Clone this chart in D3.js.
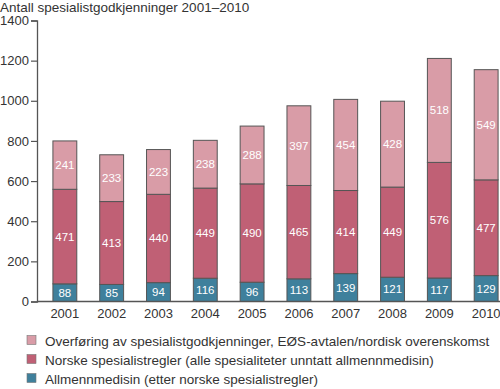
<!DOCTYPE html>
<html>
<head>
<meta charset="utf-8">
<script src="https://cdn.jsdelivr.net/npm/d3@7"></script>
<style>
  body { margin: 0; background: #fff; }
  text { font-family: "Liberation Sans", Arial, sans-serif; }
</style>
</head>
<body>
<div id="chart"></div>
<script>
// data
var years = ["2001", "2002", "2003", "2004", "2005", "2006", "2007", "2008", "2009", "2010"];
var allmenn = [88, 85, 94, 116, 96, 113, 139, 121, 117, 129];
var norske = [471, 413, 440, 449, 490, 465, 414, 449, 576, 477];
var overforing = [241, 233, 223, 238, 288, 397, 454, 428, 518, 549];
var yTicks = [0, 200, 400, 600, 800, 1000, 1200, 1400];
var seriesNames = [
    "Overføring av spesialistgodkjenninger, EØS-avtalen/nordisk overenskomst",
    "Norske spesialistregler (alle spesialiteter unntatt allmennmedisin)",
    "Allmennmedisin (etter norske spesialistregler)"
];

const width = 500;
const height = 389;
var colors = { allmenn: "#3f809c", norske: "#c06075", overforing: "#d99ca7" };

var svg = d3.select("#chart").append("svg")
    .attr("width", width)
    .attr("height", height);

var table = years.map(function(y, i) {
    return { year: y, allmenn: allmenn[i], norske: norske[i], overforing: overforing[i] };
});
var keys = ["allmenn", "norske", "overforing"];
var stacked = d3.stack().keys(keys)(table);

var y = d3.scaleLinear().domain([0, 1400]).range([301.5, 20.5]);
var x = d3.scaleBand().domain(years)
    .range([37, 514])
    .paddingInner(0.49)
    .paddingOuter(0.34);

// title
svg.append("text")
    .attr("x", 0).attr("y", 11.5)
    .attr("font-size", 13.5)
    .attr("fill", "#333")
    .text("Antall spesialistgodkjenninger 2001–2010");

// y axis
var yAxis = svg.append("g")
    .attr("transform", "translate(37,0)")
    .call(d3.axisLeft(y).tickValues(yTicks).tickSize(6).tickPadding(2).tickFormat(d3.format("d")));
yAxis.select(".domain").attr("stroke", "#555").attr("stroke-width", 1.3);
yAxis.selectAll(".tick line").attr("stroke", "#555").attr("stroke-width", 1.2);
yAxis.selectAll("text").attr("font-size", 13).attr("fill", "#333")
    .attr("font-family", "Liberation Sans, Arial, sans-serif");

// bars
var groups = svg.selectAll("g.layer")
    .data(stacked)
    .enter().append("g")
    .attr("class", "layer")
    .attr("fill", function(d) { return colors[d.key]; });

groups.selectAll("rect")
    .data(function(d) { return d; })
    .enter().append("rect")
    .attr("x", function(d) { return x(d.data.year); })
    .attr("y", function(d) { return y(d[1]); })
    .attr("width", x.bandwidth())
    .attr("height", function(d) { return y(d[0]) - y(d[1]); })
    .attr("stroke", "#555")
    .attr("stroke-width", 1);

groups.selectAll("text")
    .data(function(d) { return d.map(function(v) { v.key = d.key; return v; }); })
    .enter().append("text")
    .attr("x", function(d) { return x(d.data.year) + x.bandwidth() / 2; })
    .attr("y", function(d) { return (y(d[0]) + y(d[1])) / 2 + 4; })
    .attr("text-anchor", "middle")
    .attr("font-size", 11.5)
    .attr("fill", "#fff")
    .text(function(d) { return d.data[d.key]; });

// baseline
svg.append("line")
    .attr("x1", 37).attr("x2", width)
    .attr("y1", y(0)).attr("y2", y(0))
    .attr("stroke", "#555").attr("stroke-width", 1.3);

// x labels
svg.selectAll("text.xlab")
    .data(years)
    .enter().append("text")
    .attr("class", "xlab")
    .attr("x", function(d) { return x(d) + x.bandwidth() / 2; })
    .attr("y", 318)
    .attr("text-anchor", "middle")
    .attr("font-size", 13)
    .attr("fill", "#333")
    .text(function(d) { return d; });

// legend
var legendKeys = ["overforing", "norske", "allmenn"];
var legend = svg.selectAll("g.legend")
    .data(legendKeys)
    .enter().append("g")
    .attr("class", "legend")
    .attr("transform", function(d, i) { return "translate(27," + (340.5 + i * 19) + ")"; });

legend.append("rect")
    .attr("x", 0).attr("y", -5)
    .attr("width", 9).attr("height", 9)
    .attr("fill", function(d) { return colors[d]; })
    .attr("stroke", "#777").attr("stroke-width", 0.6);

legend.append("text")
    .attr("x", 18).attr("y", 5)
    .attr("font-size", 13.5)
    .attr("fill", "#333")
    .text(function(d, i) { return seriesNames[i]; });
</script>
</body>
</html>
